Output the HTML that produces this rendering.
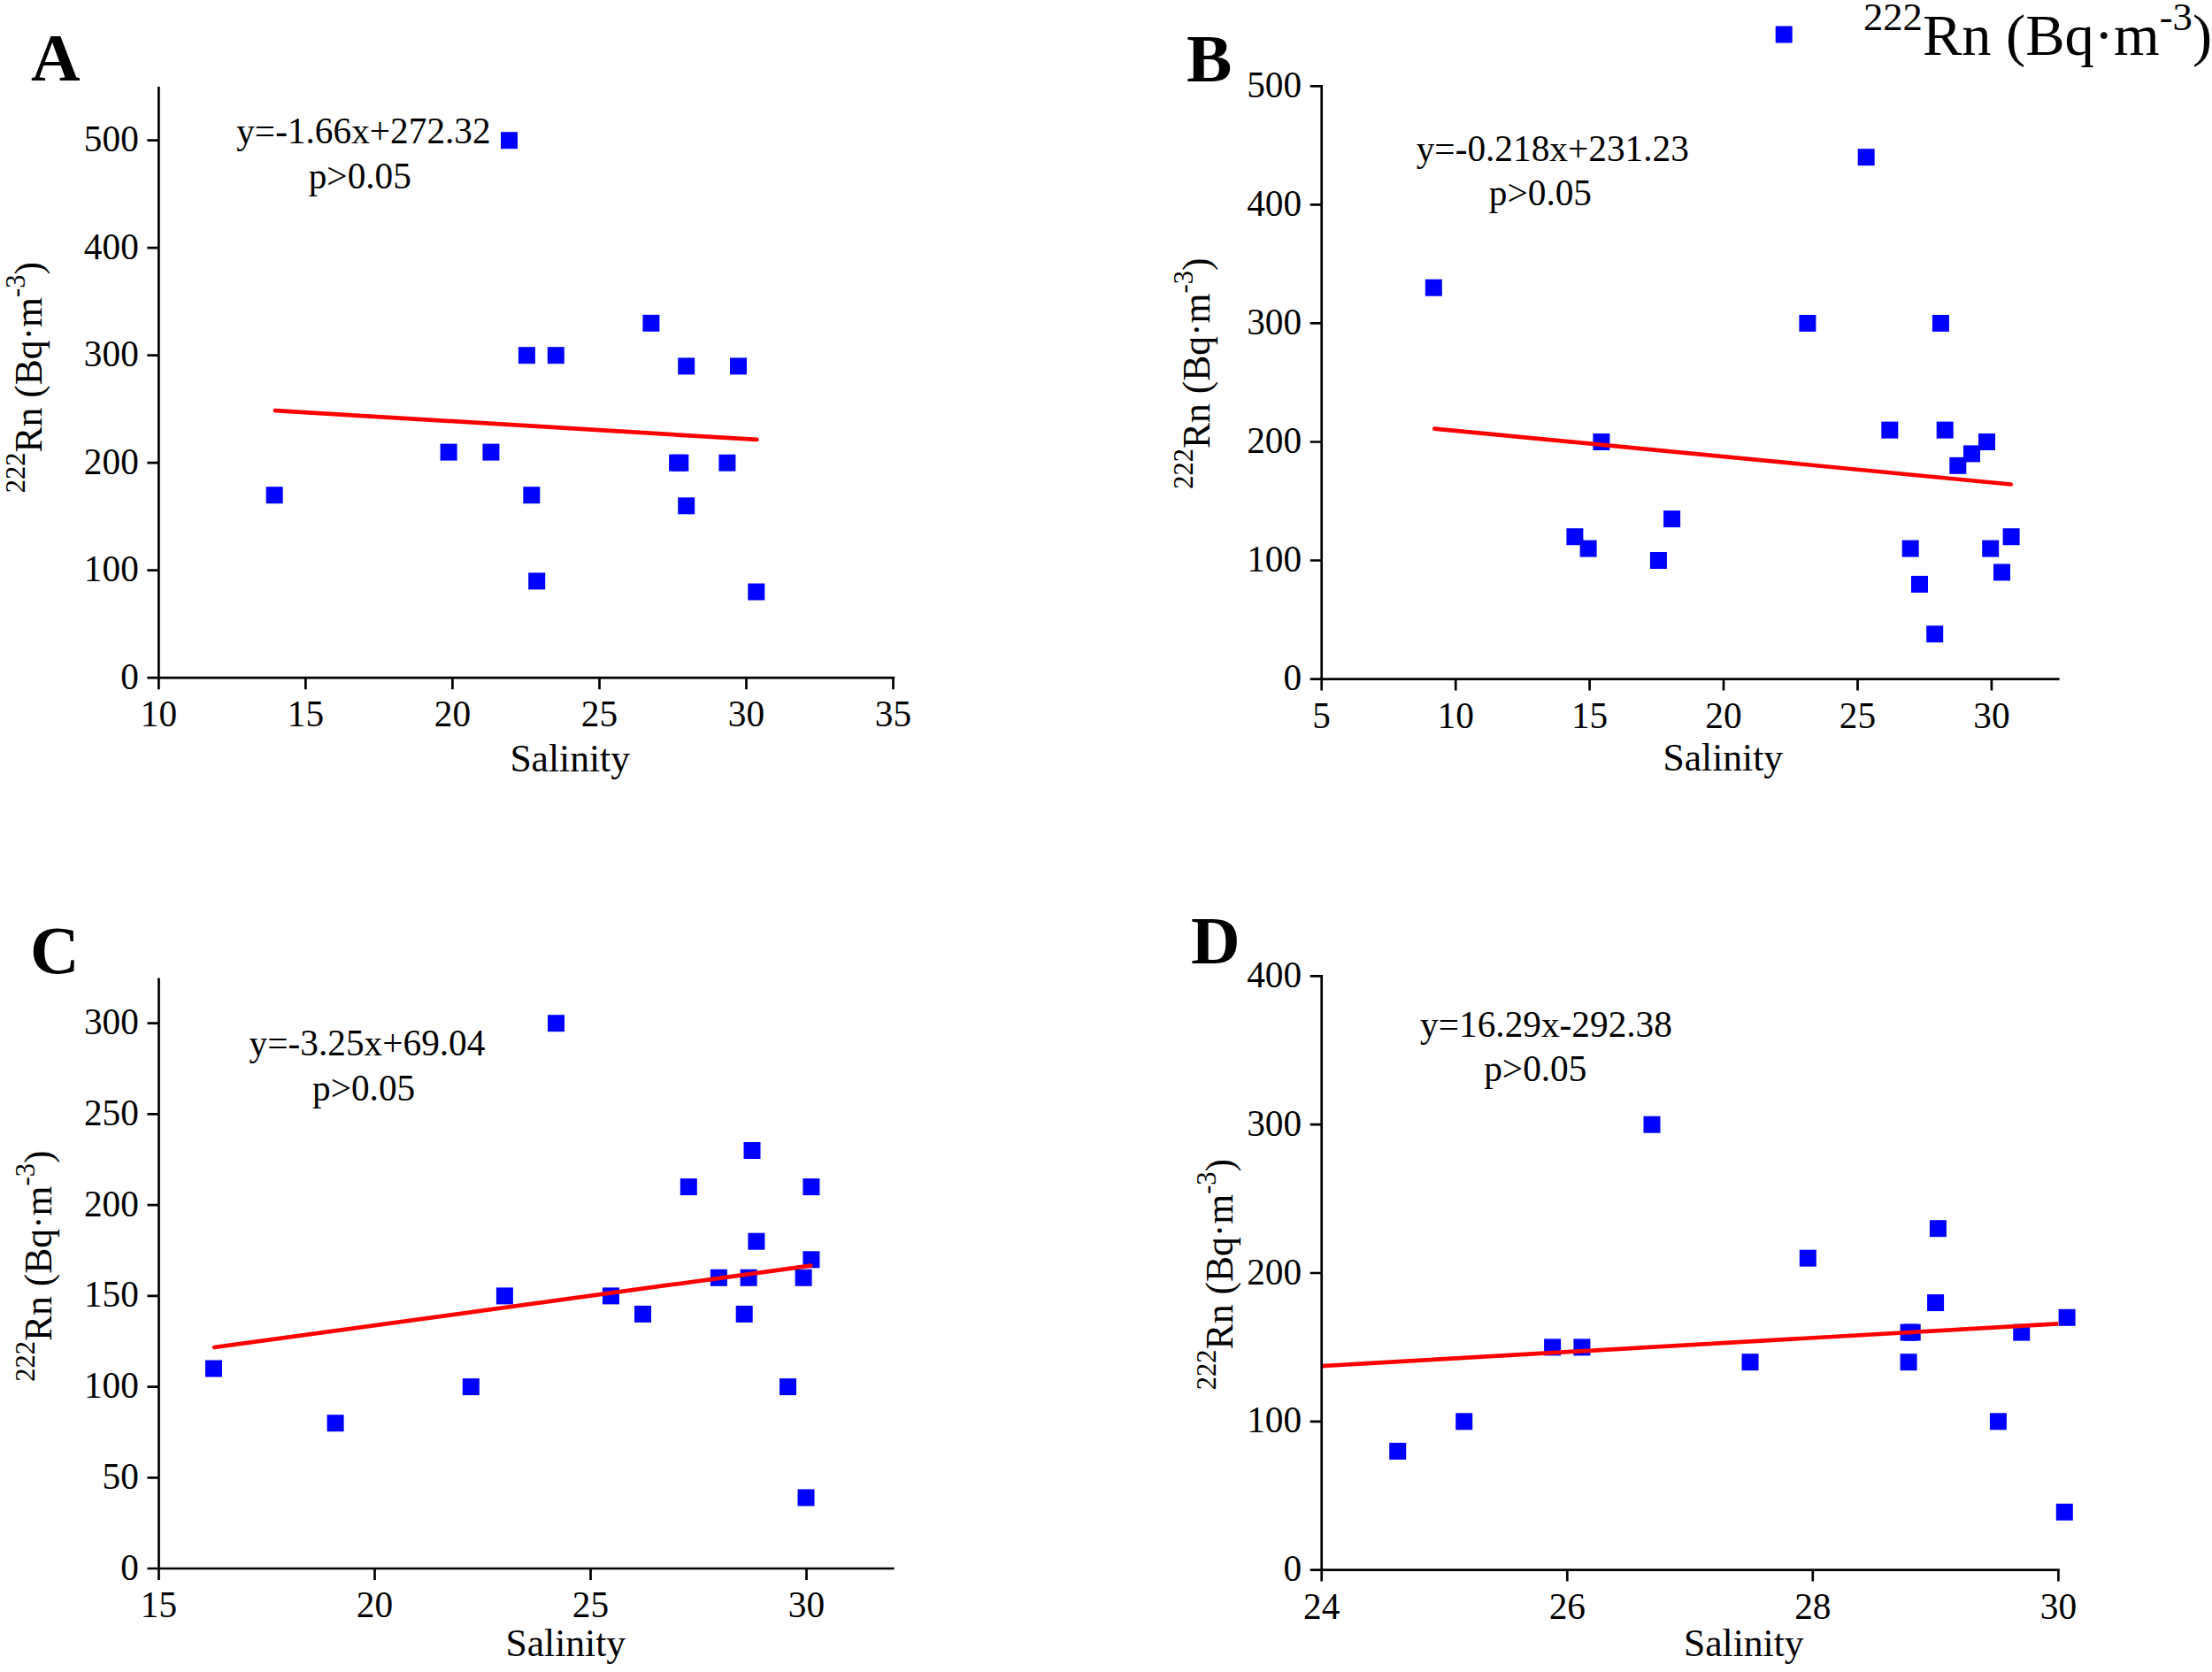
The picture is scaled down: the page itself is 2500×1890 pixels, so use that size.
<!DOCTYPE html>
<html lang="en">
<head>
<meta charset="utf-8">
<title>222Rn versus salinity</title>
<style>
html,body{margin:0;padding:0;background:#fff;}
body{width:2500px;height:1890px;overflow:hidden;}
svg{display:block;}
text{font-family:"Liberation Serif", "Times New Roman", serif;fill:#000;}
.ax{fill:none;stroke:#000;stroke-width:2.7;stroke-linecap:butt;}
.tk{font-size:41.3px;}
.lab{font-size:43.6px;}
.ann{font-size:41.3px;}
.ltr{font-size:77px;font-weight:bold;}
.leg{font-size:66.5px;}
.pt{fill:#0000ff;}
.fit{stroke:#ff0000;stroke-width:4.7;stroke-linecap:round;}
</style>
</head>
<body>
<svg width="2500" height="1890" viewBox="0 0 2500 1890">
<rect width="2500" height="1890" fill="#fff"/>
<g id="panelA">
<text x="179.4" y="821.2" class="tk" text-anchor="middle">10</text>
<text x="345.4" y="821.2" class="tk" text-anchor="middle">15</text>
<text x="511.4" y="821.2" class="tk" text-anchor="middle">20</text>
<text x="677.5" y="821.2" class="tk" text-anchor="middle">25</text>
<text x="843.5" y="821.2" class="tk" text-anchor="middle">30</text>
<text x="1009.5" y="821.2" class="tk" text-anchor="middle">35</text>
<text x="156.8" y="778.7" class="tk" text-anchor="end">0</text>
<text x="156.8" y="657.2" class="tk" text-anchor="end">100</text>
<text x="156.8" y="535.7" class="tk" text-anchor="end">200</text>
<text x="156.8" y="414.2" class="tk" text-anchor="end">300</text>
<text x="156.8" y="292.7" class="tk" text-anchor="end">400</text>
<text x="156.8" y="171.2" class="tk" text-anchor="end">500</text>
<rect x="566.0" y="149.2" width="19" height="19" class="pt"/>
<rect x="726.4" y="355.8" width="19" height="19" class="pt"/>
<rect x="585.9" y="392.2" width="19" height="19" class="pt"/>
<rect x="618.8" y="392.2" width="19" height="19" class="pt"/>
<rect x="766.2" y="404.4" width="19" height="19" class="pt"/>
<rect x="825.0" y="404.4" width="19" height="19" class="pt"/>
<rect x="497.6" y="501.6" width="19" height="19" class="pt"/>
<rect x="545.4" y="501.6" width="19" height="19" class="pt"/>
<rect x="756.1" y="513.7" width="19" height="19" class="pt"/>
<rect x="759.3" y="513.7" width="19" height="19" class="pt"/>
<rect x="812.4" y="513.7" width="19" height="19" class="pt"/>
<rect x="300.7" y="550.2" width="19" height="19" class="pt"/>
<rect x="591.3" y="550.2" width="19" height="19" class="pt"/>
<rect x="766.2" y="562.3" width="19" height="19" class="pt"/>
<rect x="597.2" y="647.4" width="19" height="19" class="pt"/>
<rect x="845.3" y="659.5" width="19" height="19" class="pt"/>
<line x1="311.0" y1="464.1" x2="855.4" y2="496.9" class="fit"/>
<path d="M179.4 98.0V766.2M166.4 766.2H1011.2" class="ax"/>
<path d="M179.4 766.2v13M345.4 766.2v13M511.4 766.2v13M677.5 766.2v13M843.5 766.2v13M1009.5 766.2v13M179.4 644.7h-13M179.4 523.2h-13M179.4 401.7h-13M179.4 280.2h-13M179.4 158.7h-13" class="ax"/>
<text x="35" y="91.3" class="ltr">A</text>
<text transform="translate(47 426.7) rotate(-90)" class="lab" text-anchor="middle"><tspan font-size="30.5" dy="-18.7">222</tspan><tspan dy="18.7">Rn (Bq·m</tspan><tspan font-size="30.5" dy="-18.7">-3</tspan><tspan dy="18.7">)</tspan></text>
<text x="644.2" y="872.2" class="lab" text-anchor="middle">Salinity</text>
<text x="267.2" y="162.4" class="ann">y=-1.66x+272.32</text>
<text x="348.7" y="213.4" class="ann">p&gt;0.05</text>
</g>
<g id="panelB">
<text x="1493.7" y="822.6" class="tk" text-anchor="middle">5</text>
<text x="1645.2" y="822.6" class="tk" text-anchor="middle">10</text>
<text x="1796.6" y="822.6" class="tk" text-anchor="middle">15</text>
<text x="1948.0" y="822.6" class="tk" text-anchor="middle">20</text>
<text x="2099.5" y="822.6" class="tk" text-anchor="middle">25</text>
<text x="2250.9" y="822.6" class="tk" text-anchor="middle">30</text>
<text x="1471.1" y="780.1" class="tk" text-anchor="end">0</text>
<text x="1471.1" y="646.0" class="tk" text-anchor="end">100</text>
<text x="1471.1" y="512.0" class="tk" text-anchor="end">200</text>
<text x="1471.1" y="377.9" class="tk" text-anchor="end">300</text>
<text x="1471.1" y="243.9" class="tk" text-anchor="end">400</text>
<text x="1471.1" y="109.8" class="tk" text-anchor="end">500</text>
<rect x="2099.7" y="168.2" width="19" height="19" class="pt"/>
<rect x="1610.8" y="315.7" width="19" height="19" class="pt"/>
<rect x="2033.4" y="355.9" width="19" height="19" class="pt"/>
<rect x="2183.9" y="355.9" width="19" height="19" class="pt"/>
<rect x="2126.3" y="476.6" width="19" height="19" class="pt"/>
<rect x="2188.7" y="476.6" width="19" height="19" class="pt"/>
<rect x="1800.4" y="490.0" width="19" height="19" class="pt"/>
<rect x="2236.0" y="490.0" width="19" height="19" class="pt"/>
<rect x="2219.0" y="503.4" width="19" height="19" class="pt"/>
<rect x="2203.3" y="516.8" width="19" height="19" class="pt"/>
<rect x="1880.1" y="577.1" width="19" height="19" class="pt"/>
<rect x="1770.4" y="597.2" width="19" height="19" class="pt"/>
<rect x="2263.6" y="597.2" width="19" height="19" class="pt"/>
<rect x="1785.6" y="610.6" width="19" height="19" class="pt"/>
<rect x="2149.7" y="610.6" width="19" height="19" class="pt"/>
<rect x="2240.2" y="610.6" width="19" height="19" class="pt"/>
<rect x="1864.9" y="624.0" width="19" height="19" class="pt"/>
<rect x="2253.0" y="637.4" width="19" height="19" class="pt"/>
<rect x="2160.0" y="650.9" width="19" height="19" class="pt"/>
<rect x="2177.2" y="707.2" width="19" height="19" class="pt"/>
<line x1="1621.3" y1="484.6" x2="2272.8" y2="547.5" class="fit"/>
<path d="M1493.7 96.0V767.6M1480.7 767.6H2327.6" class="ax"/>
<path d="M1493.7 767.6v13M1645.2 767.6v13M1796.6 767.6v13M1948.0 767.6v13M2099.5 767.6v13M2250.9 767.6v13M1493.7 633.5h-13M1493.7 499.5h-13M1493.7 365.4h-13M1493.7 231.4h-13M1493.7 97.3h-13" class="ax"/>
<text x="1341" y="91.9" class="ltr">B</text>
<text transform="translate(1366.7 422.2) rotate(-90)" class="lab" text-anchor="middle"><tspan font-size="30.5" dy="-18.7">222</tspan><tspan dy="18.7">Rn (Bq·m</tspan><tspan font-size="30.5" dy="-18.7">-3</tspan><tspan dy="18.7">)</tspan></text>
<text x="1947.3" y="871.1" class="lab" text-anchor="middle">Salinity</text>
<text x="1600.7" y="181.5" class="ann">y=-0.218x+231.23</text>
<text x="1682.8" y="232.1" class="ann">p&gt;0.05</text>
</g>
<g id="panelC">
<text x="179.5" y="1828.0" class="tk" text-anchor="middle">15</text>
<text x="423.5" y="1828.0" class="tk" text-anchor="middle">20</text>
<text x="667.5" y="1828.0" class="tk" text-anchor="middle">25</text>
<text x="911.5" y="1828.0" class="tk" text-anchor="middle">30</text>
<text x="156.9" y="1785.5" class="tk" text-anchor="end">0</text>
<text x="156.9" y="1682.8" class="tk" text-anchor="end">50</text>
<text x="156.9" y="1580.1" class="tk" text-anchor="end">100</text>
<text x="156.9" y="1477.4" class="tk" text-anchor="end">150</text>
<text x="156.9" y="1374.6" class="tk" text-anchor="end">200</text>
<text x="156.9" y="1271.9" class="tk" text-anchor="end">250</text>
<text x="156.9" y="1169.2" class="tk" text-anchor="end">300</text>
<rect x="619.0" y="1147.2" width="19" height="19" class="pt"/>
<rect x="840.5" y="1291.0" width="19" height="19" class="pt"/>
<rect x="768.8" y="1332.1" width="19" height="19" class="pt"/>
<rect x="907.4" y="1332.1" width="19" height="19" class="pt"/>
<rect x="845.4" y="1393.7" width="19" height="19" class="pt"/>
<rect x="907.4" y="1414.3" width="19" height="19" class="pt"/>
<rect x="802.9" y="1434.8" width="19" height="19" class="pt"/>
<rect x="836.6" y="1434.8" width="19" height="19" class="pt"/>
<rect x="898.6" y="1434.8" width="19" height="19" class="pt"/>
<rect x="560.9" y="1455.4" width="19" height="19" class="pt"/>
<rect x="680.9" y="1455.4" width="19" height="19" class="pt"/>
<rect x="717.0" y="1475.9" width="19" height="19" class="pt"/>
<rect x="831.7" y="1475.9" width="19" height="19" class="pt"/>
<rect x="232.0" y="1537.5" width="19" height="19" class="pt"/>
<rect x="522.8" y="1558.1" width="19" height="19" class="pt"/>
<rect x="881.0" y="1558.1" width="19" height="19" class="pt"/>
<rect x="369.6" y="1599.2" width="19" height="19" class="pt"/>
<rect x="901.5" y="1683.4" width="19" height="19" class="pt"/>
<line x1="242.2" y1="1523.0" x2="916.4" y2="1430.6" class="fit"/>
<path d="M179.5 1105.4V1773.0M166.5 1773.0H1010.6" class="ax"/>
<path d="M179.5 1773.0v13M423.5 1773.0v13M667.5 1773.0v13M911.5 1773.0v13M179.5 1670.3h-13M179.5 1567.6h-13M179.5 1464.9h-13M179.5 1362.1h-13M179.5 1259.4h-13M179.5 1156.7h-13" class="ax"/>
<text x="34" y="1099.6" class="ltr">C</text>
<text transform="translate(57.8 1431.2) rotate(-90)" class="lab" text-anchor="middle"><tspan font-size="30.5" dy="-18.7">222</tspan><tspan dy="18.7">Rn (Bq·m</tspan><tspan font-size="30.5" dy="-18.7">-3</tspan><tspan dy="18.7">)</tspan></text>
<text x="639.3" y="1872.2" class="lab" text-anchor="middle">Salinity</text>
<text x="281.6" y="1193.3" class="ann">y=-3.25x+69.04</text>
<text x="353.0" y="1243.9" class="ann">p&gt;0.05</text>
</g>
<g id="panelD">
<text x="1493.7" y="1829.6" class="tk" text-anchor="middle">24</text>
<text x="1771.3" y="1829.6" class="tk" text-anchor="middle">26</text>
<text x="2048.8" y="1829.6" class="tk" text-anchor="middle">28</text>
<text x="2326.4" y="1829.6" class="tk" text-anchor="middle">30</text>
<text x="1471.1" y="1787.1" class="tk" text-anchor="end">0</text>
<text x="1471.1" y="1619.3" class="tk" text-anchor="end">100</text>
<text x="1471.1" y="1451.5" class="tk" text-anchor="end">200</text>
<text x="1471.1" y="1283.7" class="tk" text-anchor="end">300</text>
<text x="1471.1" y="1115.9" class="tk" text-anchor="end">400</text>
<rect x="1857.5" y="1261.7" width="19" height="19" class="pt"/>
<rect x="2180.9" y="1379.2" width="19" height="19" class="pt"/>
<rect x="2033.8" y="1412.7" width="19" height="19" class="pt"/>
<rect x="2178.1" y="1463.1" width="19" height="19" class="pt"/>
<rect x="2326.6" y="1479.8" width="19" height="19" class="pt"/>
<rect x="2147.6" y="1496.6" width="19" height="19" class="pt"/>
<rect x="2151.7" y="1496.6" width="19" height="19" class="pt"/>
<rect x="2275.2" y="1496.6" width="19" height="19" class="pt"/>
<rect x="1745.1" y="1513.4" width="19" height="19" class="pt"/>
<rect x="1778.4" y="1513.4" width="19" height="19" class="pt"/>
<rect x="1968.5" y="1530.2" width="19" height="19" class="pt"/>
<rect x="2147.6" y="1530.2" width="19" height="19" class="pt"/>
<rect x="1645.2" y="1597.3" width="19" height="19" class="pt"/>
<rect x="2248.9" y="1597.3" width="19" height="19" class="pt"/>
<rect x="1570.2" y="1630.9" width="19" height="19" class="pt"/>
<rect x="2323.8" y="1699.7" width="19" height="19" class="pt"/>
<line x1="1493.7" y1="1544.1" x2="2326.4" y2="1496.4" class="fit" style="stroke-linecap:butt"/>
<path d="M1493.7 1102.1V1774.6M1480.7 1774.6H2327.8" class="ax"/>
<path d="M1493.7 1774.6v13M1771.3 1774.6v13M2048.8 1774.6v13M2326.4 1774.6v13M1493.7 1606.8h-13M1493.7 1439.0h-13M1493.7 1271.2h-13M1493.7 1103.4h-13" class="ax"/>
<text x="1346" y="1089.2" class="ltr">D</text>
<text transform="translate(1392.9 1440.5) rotate(-90)" class="lab" text-anchor="middle"><tspan font-size="30.5" dy="-18.7">222</tspan><tspan dy="18.7">Rn (Bq·m</tspan><tspan font-size="30.5" dy="-18.7">-3</tspan><tspan dy="18.7">)</tspan></text>
<text x="1970.8" y="1872.2" class="lab" text-anchor="middle">Salinity</text>
<text x="1605.1" y="1171.5" class="ann">y=16.29x-292.38</text>
<text x="1677.2" y="1222.1" class="ann">p&gt;0.05</text>
</g>
<g id="legend"><rect x="2006.7" y="29.5" width="19" height="19" class="pt"/><text x="2106" y="61.6" class="leg"><tspan font-size="44.6" dy="-27.3">222</tspan><tspan dy="27.3">Rn (Bq·m</tspan><tspan font-size="44.6" dy="-27.3">-3</tspan><tspan dy="27.3">)</tspan></text></g>
</svg>
</body>
</html>
